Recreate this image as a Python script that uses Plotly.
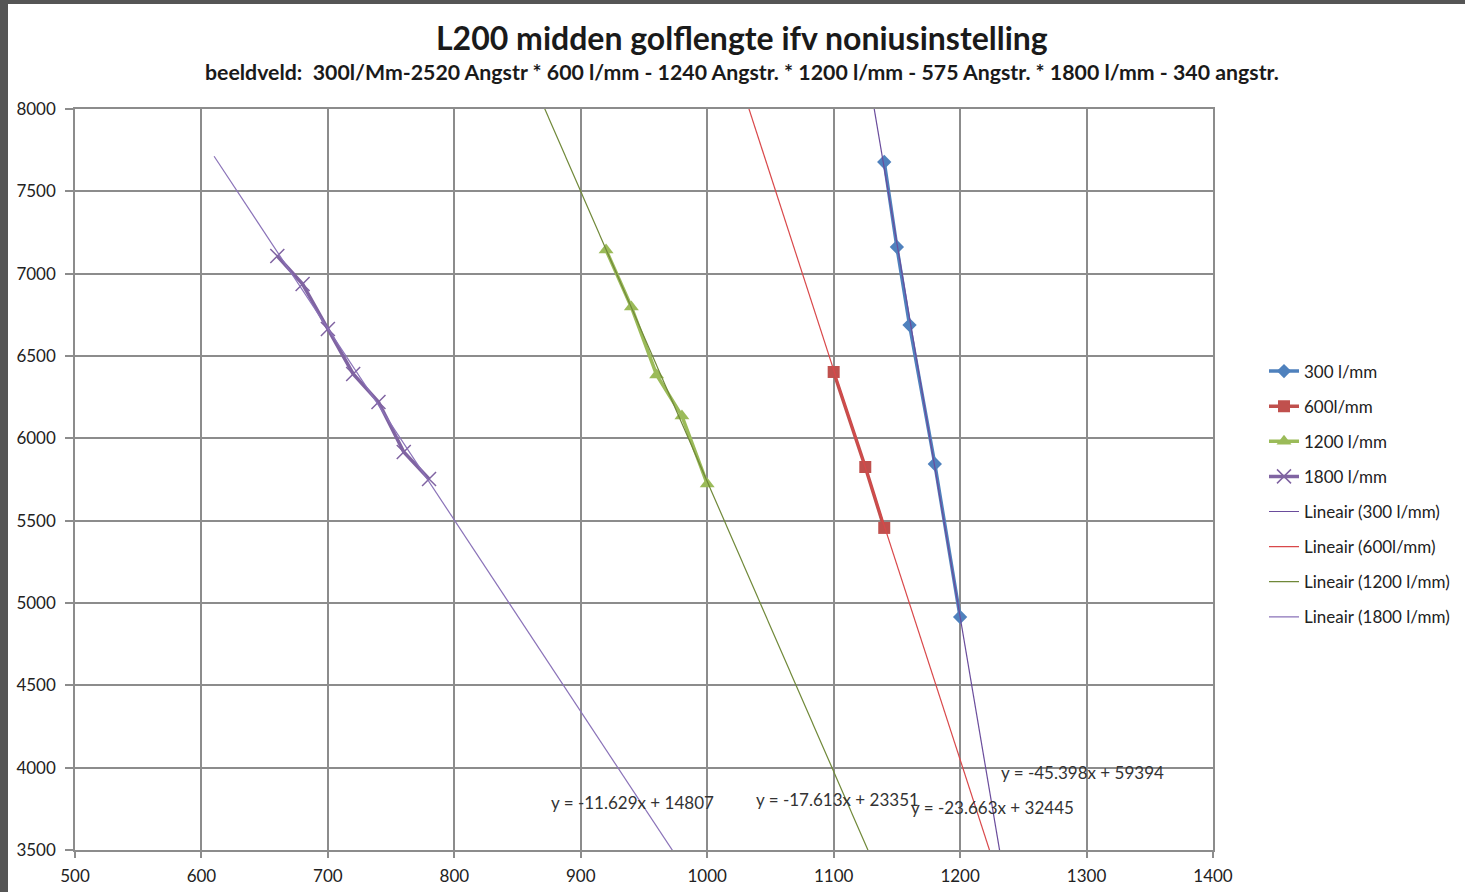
import numpy as np
import plotly.graph_objects as go

# Nonius setting (x) against central wavelength in Angstrom (y), per grating
x_300 = [1140, 1150, 1160, 1180, 1200]
y_300 = [7678, 7162, 6688, 5844, 4915]

x_600 = [1100, 1125, 1140]
y_600 = [6403, 5826, 5456]

x_1200 = [920, 940, 960, 980, 1000]
y_1200 = [7144, 6798, 6385, 6136, 5723]

x_1800 = [660, 680, 700, 720, 740, 760, 780]
y_1800 = [7107, 6937, 6664, 6391, 6221, 5917, 5753]

series_names = ["300 l/mm", "600l/mm", "1200 l/mm", "1800 l/mm"]
series_colors = ["#4F81BD", "#C0504D", "#9BBB59", "#8064A2"]
series_symbols = ["diamond", "square", "triangle-up", "x-thin"]
marker_sizes = [11, 12, 13, 14]

# Linear trendlines as printed on the chart: slope, intercept
trend_slopes = [-45.398, -23.663, -17.613, -11.629]
trend_intercepts = [59394, 32445, 23351, 14807]
trend_back = [100, 100, 100, 50]
trend_colors = ["#6A4C9C", "#D9484A", "#6F8838", "#8A72B8"]
trend_labels = ["y = -45.398x + 59394", "y = -23.663x + 32445",
                "y = -17.613x + 23351", "y = -11.629x + 14807"]
label_pos_x = [1297, 1226, 1103, 941]
label_pos_y = [3968, 3761, 3804, 3786]

x_ticks = [500, 600, 700, 800, 900, 1000, 1100, 1200, 1300, 1400]
y_ticks = [3500, 4000, 4500, 5000, 5500, 6000, 6500, 7000, 7500, 8000]

title_text = "L200 midden golflengte ifv noniusinstelling"
subtitle_text = ("beeldveld:  300l/Mm-2520 Angstr * 600 l/mm - 1240 Angstr. * "
                 "1200 l/mm - 575 Angstr. * 1800 l/mm - 340 angstr.")

FONT = "Lato, 'Open Sans', sans-serif"
W, H = 1465, 892
ML, MR, MT, MB = 75, 252, 109, 42
PW, PH = W - ML - MR, H - MT - MB

fig = go.Figure()

xs = [x_300, x_600, x_1200, x_1800]
ys = [y_300, y_600, y_1200, y_1800]

for i in range(4):
    sym = series_symbols[i]
    marker = dict(symbol=sym, size=marker_sizes[i], color=series_colors[i],
                  line=dict(color=series_colors[i], width=1.5 if sym == "x-thin" else 0))
    fig.add_trace(go.Scatter(
        x=xs[i], y=ys[i], mode="lines+markers", name=series_names[i],
        line=dict(color=series_colors[i], width=3.5),
        marker=marker, legendgroup=f"s{i}",
    ))

for i in range(4):
    tx = np.array([min(xs[i]) - trend_back[i], max(xs[i]) + 400])
    ty = trend_slopes[i] * tx + trend_intercepts[i]
    fig.add_trace(go.Scatter(
        x=tx, y=ty, mode="lines",
        name=f"Lineair ({series_names[i]})",
        line=dict(color=trend_colors[i], width=1.2),
        legendgroup=f"t{i}", hoverinfo="skip",
    ))

for i in range(4):
    fig.add_annotation(
        x=label_pos_x[i], y=label_pos_y[i], xref="x", yref="y",
        text=trend_labels[i], showarrow=False,
        font=dict(family=FONT, size=17, color="#333333"),
    )

# Title and subtitle, centred over the chart
cx = (742 - ML) / PW
fig.add_annotation(
    x=cx, y=1, xref="paper", yref="paper", yshift=MT - 37,
    text=f"<b>{title_text}</b>", showarrow=False,
    font=dict(family=FONT, size=32, color="#1a1a1a"),
    xanchor="center", yanchor="middle",
)
fig.add_annotation(
    x=cx, y=1, xref="paper", yref="paper", yshift=MT - 72,
    text=f"<b>{subtitle_text}</b>", showarrow=False,
    font=dict(family=FONT, size=21.3, color="#1a1a1a"),
    xanchor="center", yanchor="middle",
)

# Dark frame along the top and left edges
px = lambda p: (p - ML) / PW
py = lambda p: (H - MB - p) / PH
frame = (f"M {px(0)} {py(0)} L {px(W)} {py(0)} L {px(W)} {py(4)} "
         f"L {px(8)} {py(4)} L {px(8)} {py(H)} L {px(0)} {py(H)} Z")
fig.add_shape(type="path", path=frame, xref="paper", yref="paper",
              fillcolor="#555555", line=dict(width=0), layer="above")

axis_common = dict(
    showgrid=True, gridcolor="#8C8C8C", gridwidth=1.5, showline=True,
    linecolor="#8C8C8C", linewidth=1.5, mirror=True,
    ticks="outside", tickcolor="#8C8C8C", tickwidth=1.5, automargin=False,
    tickfont=dict(family=FONT, size=17, color="#222222"), zeroline=False,
)

fig.update_layout(
    width=W, height=H,
    margin=dict(l=ML, r=MR, t=MT, b=MB, autoexpand=False),
    paper_bgcolor="white", plot_bgcolor="white",
    showlegend=True,
    legend=dict(
        x=(1264 - ML) / PW, y=0.670, xanchor="left", yanchor="top",
        font=dict(family=FONT, size=17, color="#222222"),
        tracegroupgap=10, itemwidth=30, bgcolor="rgba(0,0,0,0)",
    ),
    xaxis=dict(range=[500, 1400], tickvals=x_ticks, ticklen=6,
               ticklabelstandoff=4, **axis_common),
    yaxis=dict(range=[3500, 8000], tickvals=y_ticks, ticklen=8,
               ticklabelstandoff=6, **axis_common),
)

fig.write_html("out.html")
